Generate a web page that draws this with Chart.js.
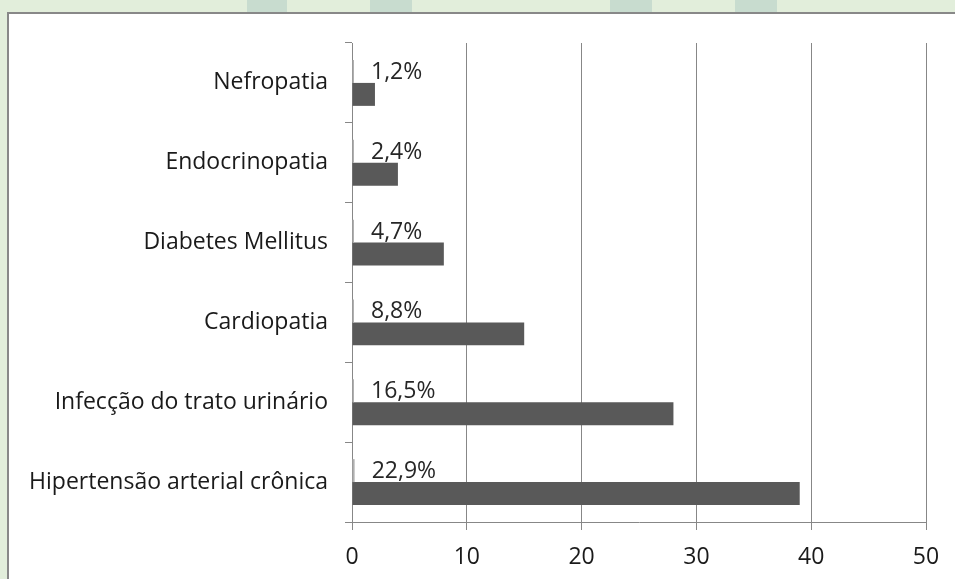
<!DOCTYPE html>
<html>
<head>
<meta charset="utf-8">
<script src="https://cdn.jsdelivr.net/npm/chart.js@4.4.1/dist/chart.umd.min.js"></script>
<style>
  html, body { margin: 0; padding: 0; }
  body { width: 955px; height: 579px; overflow: hidden; background: #e2eedb; position: relative; }
  .stripe { position: absolute; top: 0; height: 12px; background: #c8dccf; }
  .box { position: absolute; left: 7px; top: 12px; width: 980px; height: 600px; background: #fff; border-left: 2px solid #888; border-top: 2px solid #888; }
  #chart_wrap { position: absolute; left: 0; top: 0; width: 955px; height: 579px; }
</style>
</head>
<body>
<div class="stripe" style="left:247px;width:40px"></div>
<div class="stripe" style="left:370px;width:42px"></div>
<div class="stripe" style="left:610px;width:42px"></div>
<div class="stripe" style="left:735px;width:42px"></div>
<div class="box"></div>
<div id="chart_wrap"><canvas id="chart_causas"></canvas></div>
<script>
var categorias = ['Nefropatia', 'Endocrinopatia', 'Diabetes Mellitus', 'Cardiopatia', 'Infecção do trato urinário', 'Hipertensão arterial crônica'];
var casos = [2, 4, 8, 15, 28, 39];
var percentuais = [1.2, 2.4, 4.7, 8.8, 16.5, 22.9];
var ticks_x = [0, 10, 20, 30, 40, 50];

var fonte = "'Open Sans', sans-serif";

// rotulos "22,9%" ao lado da barrinha de percentual
var rotulos = {
  id: 'rotulos',
  afterDatasetsDraw: function (chart) {
    var ctx = chart.ctx;
    var meta = chart.getDatasetMeta(0);
    ctx.save();
    ctx.font = '23px ' + fonte;
    ctx.fillStyle = '#262626';
    ctx.textAlign = 'left';
    ctx.textBaseline = 'middle';
    meta.data.forEach(function (bar, i) {
      var txt = percentuais[i].toFixed(1).replace('.', ',') + '%';
      ctx.fillText(txt, bar.x + 17, bar.y + 1);
    });
    ctx.restore();
  }
};

var ctx = document.getElementById('chart_causas').getContext('2d');
var grafico = new Chart(ctx, {
  type: 'bar',
  data: {
    labels: categorias,
    datasets: [{
      data: percentuais.map(function (p) { return p / 100; }),
      backgroundColor: '#b0b0b0',
      minBarLength: 2
    }, {
      data: casos,
      backgroundColor: '#595959'
    }]
  },
  options: {
    indexAxis: 'y',
    responsive: true,
    maintainAspectRatio: false,
    animation: false,
    categoryPercentage: 0.575,
    barPercentage: 1,
    layout: { padding: { top: 43, right: 29, left: 0, bottom: 0 } },
    plugins: {
      legend: { display: false },
      title: { display: false },
      tooltip: { enabled: false }
    },
    scales: {
      x: {
        min: 0,
        max: 50,
        afterBuildTicks: function (axis) { axis.ticks = ticks_x.map(function (v) { return { value: v }; }); },
        grid: { color: '#878787', tickLength: 8, lineWidth: 1 },
        border: { color: '#878787' },
        ticks: { color: '#1a1a1a', font: { family: fonte, size: 23 }, padding: 14 },
        afterFit: function (axis) { axis.height = 57; }
      },
      y: {
        grid: { drawOnChartArea: false, offset: true, tickLength: 7, color: '#878787' },
        border: { color: '#878787' },
        ticks: { color: '#1a1a1a', font: { family: fonte, size: 23 }, padding: 17 },
        afterFit: function (axis) { axis.width = 352; }
      }
    }
  },
  plugins: [rotulos]
});
</script>
</body>
</html>
